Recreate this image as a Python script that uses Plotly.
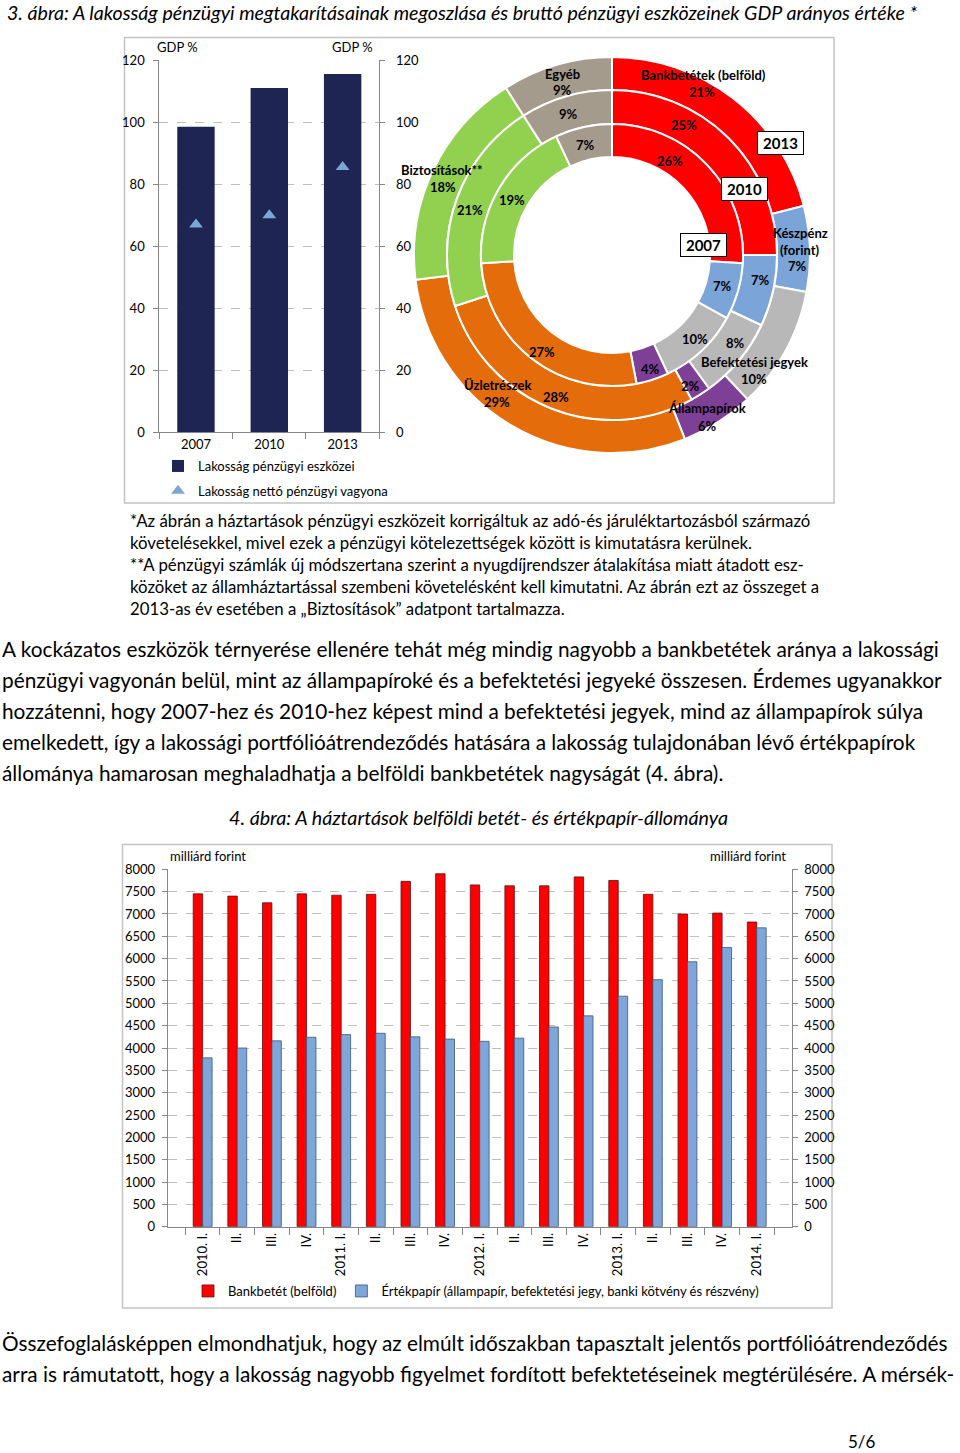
import plotly.graph_objects as go

W, H = 960, 1453
FONT = "Lato, Carlito, Calibri, sans-serif"

# ---------------- Chart 1 data ----------------
years = ["2007", "2010", "2013"]
gross_assets = [98.5, 111, 115.5]          # Lakosság pénzügyi eszközei (GDP %)
net_wealth = [67, 70, 85.5]                # Lakosság nettó pénzügyi vagyona (GDP %)
gdp_ticks = [0, 20, 40, 60, 80, 100, 120]

asset_types = ["Bankbetétek (belföld)", "Készpénz (forint)", "Befektetési jegyek",
               "Állampapírok", "Üzletrészek", "Biztosítások**", "Egyéb"]
share_2007 = [26, 7, 10, 4, 27, 19, 7]
share_2010 = [25, 7, 8, 2, 28, 21, 9]
share_2013 = [21, 7, 10, 6, 29, 18, 9]
slice_colors = ["#FF0000", "#7BA5D8", "#B8B8B8", "#7E3F96", "#E46C0A", "#92D050", "#A59B8C"]

# ---------------- Chart 2 data ----------------
quarter_ids = ["2010Q1", "2010Q2", "2010Q3", "2010Q4", "2011Q1", "2011Q2", "2011Q3", "2011Q4",
               "2012Q1", "2012Q2", "2012Q3", "2012Q4", "2013Q1", "2013Q2", "2013Q3", "2013Q4", "2014Q1"]
quarter_labels = ["2010. I.", "II.", "III.", "IV.", "2011. I.", "II.", "III.", "IV.",
                  "2012. I.", "II.", "III.", "IV.", "2013. I.", "II.", "III.", "IV.", "2014. I."]
deposits = [7450, 7400, 7250, 7450, 7420, 7440, 7730, 7900, 7650, 7630, 7630, 7830, 7750, 7440, 7000, 7020, 6820]
securities = [3780, 4000, 4160, 4240, 4300, 4330, 4250, 4200, 4150, 4220, 4470, 4720, 5160, 5530, 5930, 6250, 6690]
huf_ticks = list(range(0, 8001, 500))


def px(x):
    return x / W


def py(y):
    return 1 - y / H


fig = go.Figure()

# ---- Chart 1: bars + triangles ----
fig.add_trace(go.Bar(x=years, y=gross_assets, name="Lakosság pénzügyi eszközei",
                     marker=dict(color="#1F2553", line=dict(width=0)), width=0.51,
                     xaxis="x", yaxis="y", legend="legend2", legendgroup="a"))
fig.add_trace(go.Scatter(x=years, y=net_wealth, name="Lakosság nettó pénzügyi vagyona",
                         mode="markers", marker=dict(symbol="triangle-up", size=12, color="#7BA7D4"),
                         xaxis="x", yaxis="y2", legend="legend2", legendgroup="b"))

# ---- Chart 1: nested donut (inner 2007, middle 2010, outer 2013) ----
cx, cy = 612, 255
rings = [(share_2013, 198, 165), (share_2010, 165, 131), (share_2007, 131, 98)]
for vals, r_out, r_in in rings:
    fig.add_trace(go.Pie(values=vals, labels=asset_types, sort=False, direction="clockwise",
                         rotation=0, hole=r_in / r_out, textinfo="none", showlegend=False,
                         hoverinfo="label+percent",
                         marker=dict(colors=slice_colors, line=dict(color="white", width=2)),
                         domain=dict(x=[px(cx - r_out), px(cx + r_out)],
                                     y=[py(cy + r_out), py(cy - r_out)])))

# ---- Chart 2: grouped bars ----
fig.add_trace(go.Bar(x=quarter_ids, y=deposits, name="Bankbetét (belföld)",
                     marker=dict(color="#FF0000", line=dict(color="#5A1010", width=0.8)),
                     xaxis="x3", yaxis="y3", legend="legend"))
fig.add_trace(go.Bar(x=quarter_ids, y=securities,
                     name="Értékpapír (állampapír, befektetési jegy, banki kötvény és részvény)",
                     marker=dict(color="#7EA6D8", line=dict(color="#3D5878", width=0.8)),
                     xaxis="x3", yaxis="y3", legend="legend"))
fig.add_trace(go.Scatter(x=quarter_ids, y=deposits, mode="markers", marker=dict(opacity=0),
                         showlegend=False, hoverinfo="skip", xaxis="x3", yaxis="y4"))

grid = dict(showgrid=True, gridcolor="#BFBFBF", griddash="dash", gridwidth=1)
tickfont = dict(family=FONT, size=13, color="#000")
axline = dict(ticks="outside", tickcolor="#868686", showline=True, linecolor="#868686",
              tickfont=tickfont, automargin=False)

fig.update_layout(
    width=W, height=H, margin=dict(l=0, r=0, t=0, b=0, pad=0), autosize=False,
    paper_bgcolor="white", plot_bgcolor="rgba(0,0,0,0)",
    font=dict(family=FONT, color="#000"),
    barmode="group", bargap=0.455, bargroupgap=0,
    xaxis=dict(domain=[px(159.3), px(379.3)], anchor="y", type="category",
               tickson="boundaries", ticklen=6, showgrid=False, **axline),
    yaxis=dict(domain=[py(432.3), py(60)], anchor="x", range=[0, 120], tickvals=gdp_ticks,
               ticklen=5, ticklabelstandoff=6, zeroline=False, **grid, **axline),
    yaxis2=dict(overlaying="y", side="right", anchor="x", range=[0, 120], tickvals=gdp_ticks,
                ticklen=5, ticklabelstandoff=8, showgrid=False, zeroline=False, **axline),
    xaxis3=dict(domain=[px(167.7), px(791.7)], anchor="y3", type="category",
                tickvals=quarter_ids, ticktext=quarter_labels, tickangle=-90,
                tickson="boundaries", ticklen=7, showgrid=False, **axline),
    yaxis3=dict(domain=[py(1226.7), py(869.3)], anchor="x3", range=[0, 8000], tickvals=huf_ticks,
                ticklen=5, ticklabelstandoff=4, zeroline=False, **grid, **axline),
    yaxis4=dict(overlaying="y3", side="right", anchor="x3", range=[0, 8000], tickvals=huf_ticks,
                ticklen=5, ticklabelstandoff=4, showgrid=False, zeroline=False, **axline),
    legend=dict(orientation="h", x=px(188), y=py(1291), xanchor="left", yanchor="middle",
                font=dict(family=FONT, size=13, color="#000"), bgcolor="rgba(0,0,0,0)",
                itemwidth=30, traceorder="normal"),
    legend2=dict(orientation="v", x=px(158), y=py(451), xanchor="left", yanchor="top",
                 font=dict(family=FONT, size=13, color="#000"), bgcolor="rgba(0,0,0,0)",
                 itemwidth=30, tracegroupgap=5, traceorder="grouped"),
)

# Frames around the two charts
shapes = [
    dict(type="rect", xref="paper", yref="paper", x0=px(124.5), x1=px(834), y0=py(503), y1=py(37.5),
         line=dict(color="#C4C4C4", width=1.5), layer="below"),
    dict(type="rect", xref="paper", yref="paper", x0=px(122.5), x1=px(832), y0=py(1308), y1=py(844.5),
         line=dict(color="#C4C4C4", width=1.5), layer="below"),
]
fig.update_layout(shapes=shapes)

annotations = []


def ann(x, y, text, size=12, bold=False, xanchor="center", italic=False, box=False, color="#000"):
    t = text
    if bold:
        t = "<b>" + t + "</b>"
    if italic:
        t = "<i>" + t + "</i>"
    a = dict(x=px(x), y=py(y), xref="paper", yref="paper", text=t, showarrow=False,
             xanchor=xanchor, yanchor="middle", font=dict(family=FONT, size=size, color=color))
    if box:
        a.update(bordercolor="#000", borderwidth=1, bgcolor="white", borderpad=3,
                 width=39, height=16)
    annotations.append(a)


# Page title
ann(5, 13, "3. ábra: A lakosság pénzügyi megtakarításainak megoszlása és bruttó pénzügyi eszközeinek GDP arányos értéke *",
    size=19.6, italic=True, xanchor="left")

# Chart 1 axis titles
ann(155, 47, "GDP %", size=13, xanchor="left")
ann(375, 47, "GDP %", size=13, xanchor="right")

# Donut labels
lab = [
    (562, 74, "Egyéb"), (562, 90, f"{share_2013[6]}%"), (568, 114, f"{share_2010[6]}%"), (585, 145, f"{share_2007[6]}%"),
    (703, 75, "Bankbetétek (belföld)"), (702, 92, f"{share_2013[0]}%"), (684, 125, f"{share_2010[0]}%"),
    (670, 161, f"{share_2007[0]}%"),
    (800, 233, "Készpénz"), (800, 250, "(forint)"), (797, 266, f"{share_2013[1]}%"),
    (760, 280, f"{share_2010[1]}%"), (722, 286, f"{share_2007[1]}%"),
    (695, 339, f"{share_2007[2]}%"), (735, 343, f"{share_2010[2]}%"),
    (754, 362, "Befektetési jegyek"), (754, 379, f"{share_2013[2]}%"),
    (650, 369, f"{share_2007[3]}%"), (690, 386, f"{share_2010[3]}%"),
    (707, 408, "Állampapírok"), (707, 426, f"{share_2013[3]}%"),
    (542, 352, f"{share_2007[4]}%"), (556, 397, f"{share_2010[4]}%"),
    (497, 385, "Üzletrészek"), (497, 402, f"{share_2013[4]}%"),
    (442, 170, "Biztosítások**"), (443, 187, f"{share_2013[5]}%"),
    (470, 210, f"{share_2010[5]}%"), (512, 200, f"{share_2007[5]}%"),
]
for x, y, t in lab:
    ann(x, y, t, size=13, bold=True)

ann(780, 143, "2013", size=15, bold=True, box=True)
ann(744, 189, "2010", size=15, bold=True, box=True)
ann(703, 245, "2007", size=15, bold=True, box=True)

# Footnote
foot = [
    "*Az ábrán a háztartások pénzügyi eszközeit korrigáltuk az adó-és járuléktartozásból származó",
    "követelésekkel, mivel ezek a pénzügyi kötelezettségek között is kimutatásra kerülnek.",
    "**A pénzügyi számlák új módszertana szerint a nyugdíjrendszer átalakítása miatt átadott esz-",
    "közöket az államháztartással szembeni követelésként kell kimutatni. Az ábrán ezt az összeget a",
    "2013-as év esetében a „Biztosítások” adatpont tartalmazza.",
]
for i, line in enumerate(foot):
    ann(128, 520 + i * 22.2, line, size=16.8, xanchor="left")

body = [
    "A kockázatos eszközök térnyerése ellenére tehát még mindig nagyobb a bankbetétek aránya a lakossági",
    "pénzügyi vagyonán belül, mint az állampapíroké és a befektetési jegyeké összesen. Érdemes ugyanakkor",
    "hozzátenni, hogy 2007-hez és 2010-hez képest mind a befektetési jegyek, mind az állampapírok súlya",
    "emelkedett, így a lakossági portfólióátrendeződés hatására a lakosság tulajdonában lévő értékpapírok",
    "állománya hamarosan meghaladhatja a belföldi bankbetétek nagyságát (4. ábra).",
]
for i, line in enumerate(body):
    ann(0, 648 + i * 31, line, size=20.8, xanchor="left")

ann(478, 817, "4. ábra: A háztartások belföldi betét- és értékpapír-állománya", size=19.7, italic=True)

ann(168, 856, "milliárd forint", size=13, xanchor="left")
ann(788, 856, "milliárd forint", size=13, xanchor="right")

final = [
    "Összefoglalásképpen elmondhatjuk, hogy az elmúlt időszakban tapasztalt jelentős portfólióátrendeződés",
    "arra is rámutatott, hogy a lakosság nagyobb figyelmet fordított befektetéseinek megtérülésére. A mérsék-",
]
for i, line in enumerate(final):
    ann(0, 1342 + i * 31, line, size=20.8, xanchor="left")

ann(862, 1441, "5/6", size=17)

fig.update_layout(annotations=annotations)

post = """
document.documentElement.style.margin='0';
document.body.style.margin='0';
document.body.style.padding='0';
document.documentElement.style.overflow='hidden';
document.body.style.overflow='hidden';
"""
fig.write_html("out.html", config={"displayModeBar": False}, post_script=post)
